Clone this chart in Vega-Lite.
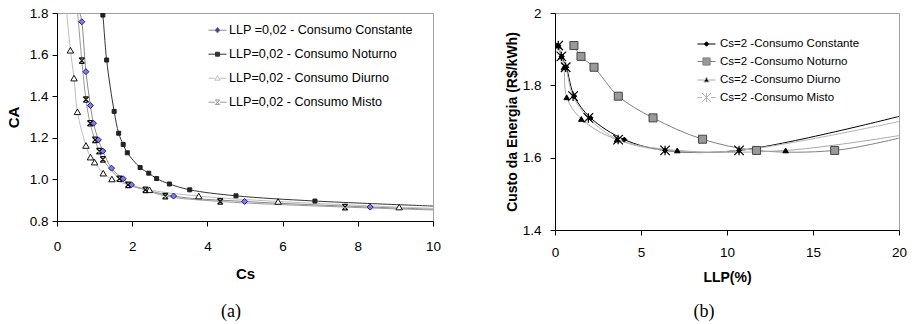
{
  "$schema": "https://vega.github.io/schema/vega-lite/v6.json",
  "background": "white",
  "padding": {"left": 5, "top": 5, "right": 5, "bottom": 2},
  "config": {
    "font": "Liberation Sans",
    "view": {"stroke": "#a0a0a0", "strokeWidth": 1},
    "axis": {"grid": false, "domainColor": "#000000", "tickColor": "#000000", "labelColor": "#000000", "titleColor": "#000000", "labelFont": "Liberation Sans", "titleFont": "Liberation Sans", "labelFontSize": 13.5, "tickSize": 5, "domainWidth": 1, "tickWidth": 1, "labelFlush": false, "labelOverlap": false, "titleFontWeight": "bold"},
    "legend": {"labelFont": "Liberation Sans", "labelColor": "#000000", "labelFontSize": 12, "labelLimit": 0, "padding": 0, "symbolSize": 324, "symbolStrokeWidth": 1}
  },
  "spacing": 62,
  "resolve": {"scale": {"color": "independent"}},
  "hconcat": [
    {
      "width": 376,
      "height": 208,
      "title": {"text": "(a)", "orient": "bottom", "font": "Liberation Serif", "fontSize": 18, "fontWeight": "normal", "color": "#000000", "anchor": "middle", "frame": "group", "dx": -14, "offset": 21},
      "data": {"values": [
        {"series": "LLP =0,02 - Consumo Constante", "x": 0.61, "y": 1.8, "marker": false},
        {"series": "LLP =0,02 - Consumo Constante", "x": 0.66, "y": 1.758, "marker": true},
        {"series": "LLP =0,02 - Consumo Constante", "x": 0.77, "y": 1.518, "marker": true},
        {"series": "LLP =0,02 - Consumo Constante", "x": 0.89, "y": 1.355, "marker": true},
        {"series": "LLP =0,02 - Consumo Constante", "x": 0.97, "y": 1.27, "marker": true},
        {"series": "LLP =0,02 - Consumo Constante", "x": 1.1, "y": 1.19, "marker": true},
        {"series": "LLP =0,02 - Consumo Constante", "x": 1.22, "y": 1.136, "marker": true},
        {"series": "LLP =0,02 - Consumo Constante", "x": 1.45, "y": 1.054, "marker": true},
        {"series": "LLP =0,02 - Consumo Constante", "x": 1.76, "y": 1.003, "marker": true},
        {"series": "LLP =0,02 - Consumo Constante", "x": 1.98, "y": 0.974, "marker": true},
        {"series": "LLP =0,02 - Consumo Constante", "x": 3.1, "y": 0.92, "marker": true},
        {"series": "LLP =0,02 - Consumo Constante", "x": 4.99, "y": 0.894, "marker": true},
        {"series": "LLP =0,02 - Consumo Constante", "x": 8.33, "y": 0.867, "marker": true},
        {"series": "LLP =0,02 - Consumo Constante", "x": 10, "y": 0.857, "marker": false},
        {"series": "LLP=0,02 - Consumo Noturno", "x": 1.21, "y": 1.8, "marker": false},
        {"series": "LLP=0,02 - Consumo Noturno", "x": 1.22, "y": 1.79, "marker": true},
        {"series": "LLP=0,02 - Consumo Noturno", "x": 1.32, "y": 1.574, "marker": true},
        {"series": "LLP=0,02 - Consumo Noturno", "x": 1.52, "y": 1.327, "marker": true},
        {"series": "LLP=0,02 - Consumo Noturno", "x": 1.64, "y": 1.222, "marker": true},
        {"series": "LLP=0,02 - Consumo Noturno", "x": 1.76, "y": 1.168, "marker": true},
        {"series": "LLP=0,02 - Consumo Noturno", "x": 1.87, "y": 1.128, "marker": true},
        {"series": "LLP=0,02 - Consumo Noturno", "x": 2.21, "y": 1.057, "marker": true},
        {"series": "LLP=0,02 - Consumo Noturno", "x": 2.44, "y": 1.03, "marker": true},
        {"series": "LLP=0,02 - Consumo Noturno", "x": 2.65, "y": 1.004, "marker": true},
        {"series": "LLP=0,02 - Consumo Noturno", "x": 2.99, "y": 0.978, "marker": true},
        {"series": "LLP=0,02 - Consumo Noturno", "x": 3.53, "y": 0.95, "marker": true},
        {"series": "LLP=0,02 - Consumo Noturno", "x": 4.76, "y": 0.921, "marker": true},
        {"series": "LLP=0,02 - Consumo Noturno", "x": 6.86, "y": 0.896, "marker": true},
        {"series": "LLP=0,02 - Consumo Noturno", "x": 10, "y": 0.872, "marker": false},
        {"series": "LLP=0,02 - Consumo Diurno", "x": 0.26, "y": 1.8, "marker": false},
        {"series": "LLP=0,02 - Consumo Diurno", "x": 0.357, "y": 1.621, "marker": true},
        {"series": "LLP=0,02 - Consumo Diurno", "x": 0.453, "y": 1.487, "marker": true},
        {"series": "LLP=0,02 - Consumo Diurno", "x": 0.543, "y": 1.325, "marker": true},
        {"series": "LLP=0,02 - Consumo Diurno", "x": 0.77, "y": 1.163, "marker": true},
        {"series": "LLP=0,02 - Consumo Diurno", "x": 0.89, "y": 1.107, "marker": true},
        {"series": "LLP=0,02 - Consumo Diurno", "x": 1.0, "y": 1.083, "marker": true},
        {"series": "LLP=0,02 - Consumo Diurno", "x": 1.23, "y": 1.03, "marker": true},
        {"series": "LLP=0,02 - Consumo Diurno", "x": 1.46, "y": 1.002, "marker": true},
        {"series": "LLP=0,02 - Consumo Diurno", "x": 2.46, "y": 0.95, "marker": true},
        {"series": "LLP=0,02 - Consumo Diurno", "x": 3.77, "y": 0.92, "marker": true},
        {"series": "LLP=0,02 - Consumo Diurno", "x": 5.88, "y": 0.894, "marker": true},
        {"series": "LLP=0,02 - Consumo Diurno", "x": 9.1, "y": 0.867, "marker": true},
        {"series": "LLP=0,02 - Consumo Diurno", "x": 10, "y": 0.861, "marker": false},
        {"series": "LLP=0,02 - Consumo Misto", "x": 0.55, "y": 1.8, "marker": false},
        {"series": "LLP=0,02 - Consumo Misto", "x": 0.66, "y": 1.571, "marker": true},
        {"series": "LLP=0,02 - Consumo Misto", "x": 0.77, "y": 1.384, "marker": true},
        {"series": "LLP=0,02 - Consumo Misto", "x": 0.88, "y": 1.27, "marker": true},
        {"series": "LLP=0,02 - Consumo Misto", "x": 1.01, "y": 1.19, "marker": true},
        {"series": "LLP=0,02 - Consumo Misto", "x": 1.12, "y": 1.136, "marker": true},
        {"series": "LLP=0,02 - Consumo Misto", "x": 1.22, "y": 1.096, "marker": true},
        {"series": "LLP=0,02 - Consumo Misto", "x": 1.66, "y": 1.003, "marker": true},
        {"series": "LLP=0,02 - Consumo Misto", "x": 1.89, "y": 0.974, "marker": true},
        {"series": "LLP=0,02 - Consumo Misto", "x": 2.35, "y": 0.95, "marker": true},
        {"series": "LLP=0,02 - Consumo Misto", "x": 2.88, "y": 0.92, "marker": true},
        {"series": "LLP=0,02 - Consumo Misto", "x": 4.34, "y": 0.894, "marker": true},
        {"series": "LLP=0,02 - Consumo Misto", "x": 7.66, "y": 0.867, "marker": true},
        {"series": "LLP=0,02 - Consumo Misto", "x": 10, "y": 0.853, "marker": false}
      ]},
      "encoding": {
        "x": {"field": "x", "type": "quantitative", "scale": {"domain": [0, 10], "nice": false}, "axis": {"title": "Cs", "values": [0, 2, 4, 6, 8, 10], "titleFontSize": 15, "labelPadding": 13, "titlePadding": 14}},
        "y": {"field": "y", "type": "quantitative", "scale": {"domain": [0.8, 1.8], "nice": false, "zero": false}, "axis": {"title": "CA", "values": [0.8, 1.0, 1.2, 1.4, 1.6, 1.8], "format": ".1f", "titleFontSize": 15, "labelPadding": 4, "titlePadding": 8}}
      },
      "layer": [
        {
          "mark": {"type": "line", "interpolate": "catmull-rom", "strokeWidth": 1, "clip": true},
          "encoding": {
            "color": {"field": "series", "type": "nominal", "scale": {"domain": ["LLP =0,02 - Consumo Constante", "LLP=0,02 - Consumo Noturno", "LLP=0,02 - Consumo Diurno", "LLP=0,02 - Consumo Misto"], "range": ["#8a8a8a", "#333333", "#bdbdbd", "#9a9a9a"]},
              "legend": {"orient": "none", "title": null, "legendX": 151, "legendY": 7.7, "rowPadding": 7, "labelOffset": 2, "labelLimit": 0, "labelFontSize": 12.6, "symbolSize": 324,
                "encode": {"symbols": {"update": {
                  "shape": {"signal": "['M-1,0H-0.3M0.3,0H1M0,-0.3L0.3,0L0,0.3L-0.3,0Z','M-1,0H1M-0.22,-0.22H0.22V0.22H-0.22Z','M-1,0H-0.3M0.3,0H1M0,-0.3L0.3,0.22L-0.3,0.22Z','M-1,0H-0.28M0.28,0H1M-0.25,-0.25L0.25,0.25M0.25,-0.25L-0.25,0.25M-0.25,-0.25H0.25M-0.25,0.25H0.25'][indexof(['LLP =0,02 - Consumo Constante','LLP=0,02 - Consumo Noturno','LLP=0,02 - Consumo Diurno','LLP=0,02 - Consumo Misto'], datum.value)]"},
                  "stroke": {"signal": "['#666666','#333333','#777777','#555555'][indexof(['LLP =0,02 - Consumo Constante','LLP=0,02 - Consumo Noturno','LLP=0,02 - Consumo Diurno','LLP=0,02 - Consumo Misto'], datum.value)]"},
                  "fill": {"signal": "['#3a3ab8','#333333','#ffffff','transparent'][indexof(['LLP =0,02 - Consumo Constante','LLP=0,02 - Consumo Noturno','LLP=0,02 - Consumo Diurno','LLP=0,02 - Consumo Misto'], datum.value)]"},
                  "size": {"value": 324},
                  "strokeWidth": {"value": 1},
                  "strokeDash": {"value": []},
                  "opacity": {"value": 1}
                }}}
              }}
          }
        },
        {"transform": [{"filter": "datum.marker && datum.series == 'LLP =0,02 - Consumo Constante'"}], "mark": {"type": "point", "shape": "diamond", "size": 36, "filled": true, "fill": "#8080dd", "stroke": "#1a1a99", "strokeWidth": 1, "opacity": 1, "clip": true}},
        {"transform": [{"filter": "datum.marker && datum.series == 'LLP=0,02 - Consumo Noturno'"}], "mark": {"type": "point", "shape": "square", "size": 16, "filled": true, "fill": "#222222", "stroke": "#222222", "strokeWidth": 1, "opacity": 1, "clip": true}},
        {"transform": [{"filter": "datum.marker && datum.series == 'LLP=0,02 - Consumo Diurno'"}], "mark": {"type": "point", "shape": "triangle-up", "size": 42, "filled": true, "fill": "#ffffff", "stroke": "#111111", "strokeWidth": 1, "opacity": 1, "clip": true}},
        {"transform": [{"filter": "datum.marker && datum.series == 'LLP=0,02 - Consumo Misto'"}], "mark": {"type": "point", "shape": "M-1,-1L1,1M1,-1L-1,1M-1,-1H1M-1,1H1", "size": 30, "filled": false, "stroke": "#111111", "strokeWidth": 1.2, "opacity": 1, "clip": true}}
      ]
    },
    {
      "width": 344,
      "height": 217,
      "title": {"text": "(b)", "orient": "bottom", "font": "Liberation Serif", "fontSize": 18, "fontWeight": "normal", "color": "#000000", "anchor": "middle", "frame": "group", "dx": -23, "offset": 18},
      "data": {"values": [
        {"series": "Cs=2 -Consumo Constante", "x": 0.19, "y": 1.91, "marker": true},
        {"series": "Cs=2 -Consumo Constante", "x": 0.39, "y": 1.88, "marker": true},
        {"series": "Cs=2 -Consumo Constante", "x": 0.66, "y": 1.85, "marker": true},
        {"series": "Cs=2 -Consumo Constante", "x": 1.12, "y": 1.77, "marker": true},
        {"series": "Cs=2 -Consumo Constante", "x": 2.07, "y": 1.71, "marker": true},
        {"series": "Cs=2 -Consumo Constante", "x": 4.03, "y": 1.65, "marker": true},
        {"series": "Cs=2 -Consumo Constante", "x": 6.4, "y": 1.62, "marker": true},
        {"series": "Cs=2 -Consumo Constante", "x": 10.7, "y": 1.62, "marker": true},
        {"series": "Cs=2 -Consumo Constante", "x": 20, "y": 1.714, "marker": false},
        {"series": "Cs=2 -Consumo Noturno", "x": 1.1, "y": 1.91, "marker": true},
        {"series": "Cs=2 -Consumo Noturno", "x": 1.51, "y": 1.88, "marker": true},
        {"series": "Cs=2 -Consumo Noturno", "x": 2.27, "y": 1.85, "marker": true},
        {"series": "Cs=2 -Consumo Noturno", "x": 3.68, "y": 1.77, "marker": true},
        {"series": "Cs=2 -Consumo Noturno", "x": 5.7, "y": 1.71, "marker": true},
        {"series": "Cs=2 -Consumo Noturno", "x": 8.58, "y": 1.651, "marker": true},
        {"series": "Cs=2 -Consumo Noturno", "x": 11.72, "y": 1.62, "marker": true},
        {"series": "Cs=2 -Consumo Noturno", "x": 16.26, "y": 1.62, "marker": true},
        {"series": "Cs=2 -Consumo Noturno", "x": 20, "y": 1.654, "marker": false},
        {"series": "Cs=2 -Consumo Diurno", "x": 0.19, "y": 1.91, "marker": true},
        {"series": "Cs=2 -Consumo Diurno", "x": 0.37, "y": 1.88, "marker": true},
        {"series": "Cs=2 -Consumo Diurno", "x": 0.52, "y": 1.85, "marker": true},
        {"series": "Cs=2 -Consumo Diurno", "x": 0.68, "y": 1.767, "marker": true},
        {"series": "Cs=2 -Consumo Diurno", "x": 1.53, "y": 1.707, "marker": true},
        {"series": "Cs=2 -Consumo Diurno", "x": 3.6, "y": 1.65, "marker": true},
        {"series": "Cs=2 -Consumo Diurno", "x": 7.11, "y": 1.62, "marker": true},
        {"series": "Cs=2 -Consumo Diurno", "x": 13.41, "y": 1.62, "marker": true},
        {"series": "Cs=2 -Consumo Diurno", "x": 20, "y": 1.661, "marker": false},
        {"series": "Cs=2 -Consumo Misto", "x": 0.19, "y": 1.91, "marker": true},
        {"series": "Cs=2 -Consumo Misto", "x": 0.37, "y": 1.88, "marker": true},
        {"series": "Cs=2 -Consumo Misto", "x": 0.62, "y": 1.85, "marker": true},
        {"series": "Cs=2 -Consumo Misto", "x": 1.05, "y": 1.77, "marker": true},
        {"series": "Cs=2 -Consumo Misto", "x": 1.94, "y": 1.71, "marker": true},
        {"series": "Cs=2 -Consumo Misto", "x": 3.67, "y": 1.65, "marker": true},
        {"series": "Cs=2 -Consumo Misto", "x": 6.4, "y": 1.62, "marker": true},
        {"series": "Cs=2 -Consumo Misto", "x": 10.7, "y": 1.62, "marker": true},
        {"series": "Cs=2 -Consumo Misto", "x": 20, "y": 1.7, "marker": false}
      ]},
      "encoding": {
        "x": {"field": "x", "type": "quantitative", "scale": {"domain": [0, 20], "nice": false}, "axis": {"title": "LLP(%)", "values": [0, 5, 10, 15, 20], "titleFontSize": 14, "labelPadding": 10, "titlePadding": 12}},
        "y": {"field": "y", "type": "quantitative", "scale": {"domain": [1.4, 2], "nice": false, "zero": false}, "axis": {"title": "Custo da Energia (R$/kWh)", "values": [1.4, 1.6, 1.8, 2], "format": ".1~f", "titleFontSize": 14, "labelPadding": 9, "titlePadding": 3}}
      },
      "layer": [
        {
          "mark": {"type": "line", "interpolate": "catmull-rom", "strokeWidth": 1, "clip": true},
          "encoding": {
            "color": {"field": "series", "type": "nominal", "scale": {"domain": ["Cs=2 -Consumo Constante", "Cs=2 -Consumo Noturno", "Cs=2 -Consumo Diurno", "Cs=2 -Consumo Misto"], "range": ["#000000", "#808080", "#a8a8a8", "#b5b5b5"]},
              "legend": {"orient": "none", "title": null, "legendX": 142, "legendY": 21.5, "rowPadding": 2.5, "labelOffset": 4, "labelFontSize": 11.5, "labelLimit": 0, "symbolSize": 324,
                "encode": {"symbols": {"update": {
                  "shape": {"signal": "['M-1,0H-0.25M0.25,0H1M0,-0.25L0.25,0L0,0.25L-0.25,0Z','M-1,0H-0.4M0.4,0H1M-0.4,-0.4H0.4V0.4H-0.4Z','M-1,0H-0.3M0.3,0H1M0,-0.3L0.3,0.22L-0.3,0.22Z','M-1,0H-0.5M0.5,0H1M-0.5,-0.5L0.5,0.5M0.5,-0.5L-0.5,0.5M0,-0.5V0.5'][indexof(['Cs=2 -Consumo Constante','Cs=2 -Consumo Noturno','Cs=2 -Consumo Diurno','Cs=2 -Consumo Misto'], datum.value)]"},
                  "stroke": {"signal": "['#000000','#555555','#888888','#333333'][indexof(['Cs=2 -Consumo Constante','Cs=2 -Consumo Noturno','Cs=2 -Consumo Diurno','Cs=2 -Consumo Misto'], datum.value)]"},
                  "fill": {"signal": "['#000000','#999999','#000000','transparent'][indexof(['Cs=2 -Consumo Constante','Cs=2 -Consumo Noturno','Cs=2 -Consumo Diurno','Cs=2 -Consumo Misto'], datum.value)]"},
                  "size": {"value": 324},
                  "strokeWidth": {"value": 1},
                  "strokeDash": {"value": []},
                  "opacity": {"value": 1}
                }}}
              }}
          }
        },
        {"transform": [{"filter": "datum.marker && datum.series == 'Cs=2 -Consumo Constante'"}], "mark": {"type": "point", "shape": "diamond", "size": 25, "filled": true, "fill": "#000000", "stroke": "#000000", "strokeWidth": 1, "opacity": 1, "clip": true}},
        {"transform": [{"filter": "datum.marker && datum.series == 'Cs=2 -Consumo Noturno'"}], "mark": {"type": "point", "shape": "square", "size": 64, "filled": true, "fill": "#999999", "stroke": "#444444", "strokeWidth": 1, "opacity": 1, "clip": true}},
        {"transform": [{"filter": "datum.marker && datum.series == 'Cs=2 -Consumo Diurno'"}], "mark": {"type": "point", "shape": "triangle-up", "size": 30, "filled": true, "fill": "#000000", "stroke": "#000000", "strokeWidth": 1, "opacity": 1, "clip": true}},
        {"transform": [{"filter": "datum.marker && datum.series == 'Cs=2 -Consumo Misto'"}], "mark": {"type": "point", "shape": "M-1,-1L1,1M1,-1L-1,1M0,-1V1", "size": 90, "filled": false, "stroke": "#000000", "strokeWidth": 1.2, "opacity": 1, "clip": true}}
      ]
    }
  ]
}
